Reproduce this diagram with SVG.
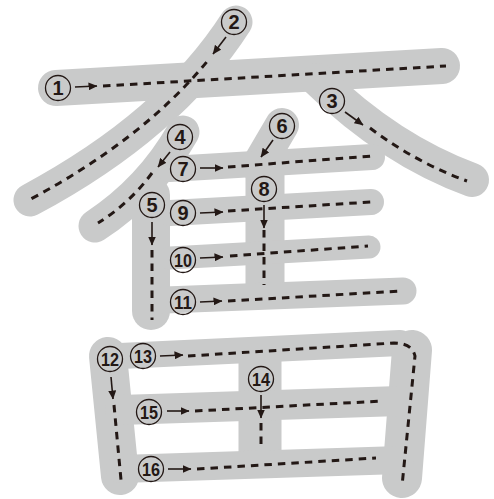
<svg xmlns="http://www.w3.org/2000/svg" width="494" height="499" viewBox="0 0 494 499">
<defs>
<style>
.g{fill:none;stroke:#c9caca;stroke-linecap:round;stroke-linejoin:round}
.gb{fill:none;stroke:#c9caca;stroke-linecap:butt}
.d{fill:none;stroke:#231815;stroke-width:3;stroke-dasharray:7.5 6}
.c{fill:none;stroke:#231815;stroke-width:1.3}
.a{fill:none;stroke:#231815;stroke-width:1.6;marker-end:url(#ah)}
.t{font-family:"Liberation Sans",Arial,sans-serif;font-weight:bold;fill:#231815;text-anchor:middle}
.t1{font-size:20px}
.t2{font-size:18px}
</style>
<marker id="ah" markerUnits="userSpaceOnUse" markerWidth="9" markerHeight="8" refX="8.5" refY="4" orient="auto">
<path d="M0,0 L9,4 L0,8 Z" fill="#231815"/>
</marker>
</defs>
<g id="shapes">
<path class="g" stroke-width="36" d="M56,88 L442,66"/>
<path class="g" stroke-width="33" d="M236,22 Q170,125 30,200"/>
<path class="g" stroke-width="34" d="M318,80 Q390,150 472,180"/>
<path class="g" stroke-width="33" d="M183,132 Q150,190 95,226"/>
<path class="g" stroke-width="38" d="M151,195 L151,311"/>
<path class="g" stroke-width="34" d="M282,125 L258,166"/>
<path class="g" stroke-width="26" d="M170,169 L372,157"/>
<path class="gb" stroke-width="39" d="M265,168 L265,295"/>
<path class="g" stroke-width="26" d="M170,213 L371,202"/>
<path class="g" stroke-width="23" d="M170,258 L369,247"/>
<path class="g" stroke-width="27" d="M165,300 L403,291"/>
<path class="g" stroke-width="38" d="M108,356 L120,476"/>
<path class="g" stroke-width="26" d="M120,356 L400,343"/>
<path class="g" stroke-width="40" d="M412,350 L402,478"/>
<path class="gb" stroke-width="43" d="M260,355 L260,460"/>
<path class="g" stroke-width="30" d="M120,410 L400,401"/>
<path class="g" stroke-width="28" d="M120,469 L400,460"/>
</g>
<g id="connectors">
<path class="d" d="M103,86 L446,66"/>
<path class="d" d="M206.6,62.1 Q142,140 29,200"/>
<path class="d" d="M370,128 Q415,162 467,181"/>
<path class="d" d="M152,173 Q130,203 98,223"/>
<path class="d" d="M152,250 L152,320"/>
<path class="d" d="M228,167 L372,156"/>
<path class="d" d="M264,230 L264,285"/>
<path class="d" d="M228,211 L371,202"/>
<path class="d" d="M230,256 L368,246"/>
<path class="d" d="M228,301 L402,291"/>
<path class="d" d="M114,405 L121,480"/>
<path class="d" d="M188,356 L394,343 Q412,343 415,356 L402,486"/>
<path class="d" d="M261,423 L261,447"/>
<path class="d" d="M195,411 L383,401"/>
<path class="d" d="M197,469 L376,458"/>
<line class="a" x1="75" y1="87" x2="97" y2="86"/>
<line class="a" x1="226" y1="37" x2="213" y2="54"/>
<line class="a" x1="345" y1="112" x2="363" y2="125"/>
<line class="a" x1="170" y1="152" x2="158" y2="167"/>
<line class="a" x1="152" y1="222" x2="152" y2="245"/>
<line class="a" x1="273" y1="140" x2="261" y2="157"/>
<line class="a" x1="200" y1="168" x2="223" y2="168"/>
<line class="a" x1="264" y1="205" x2="264" y2="228"/>
<line class="a" x1="200" y1="213" x2="223" y2="212"/>
<line class="a" x1="200" y1="258" x2="223" y2="257"/>
<line class="a" x1="200" y1="302" x2="222" y2="301"/>
<line class="a" x1="111" y1="377" x2="113" y2="399"/>
<line class="a" x1="160" y1="356" x2="183" y2="355"/>
<line class="a" x1="261" y1="395" x2="261" y2="418"/>
<line class="a" x1="167" y1="411" x2="189" y2="411"/>
<line class="a" x1="168" y1="469" x2="191" y2="469"/>
</g>
<g id="n1"><circle class="c" cx="58" cy="88" r="12.5"/><text class="t t1" x="58" y="95">1</text></g>
<g id="n2"><circle class="c" cx="234" cy="22" r="12.5"/><text class="t t1" x="234" y="29">2</text></g>
<g id="n3"><circle class="c" cx="332" cy="101" r="12.5"/><text class="t t1" x="332" y="108">3</text></g>
<g id="n4"><circle class="c" cx="180" cy="137" r="12.5"/><text class="t t1" x="180" y="144">4</text></g>
<g id="n5"><circle class="c" cx="152" cy="205" r="12.5"/><text class="t t1" x="152" y="212">5</text></g>
<g id="n6"><circle class="c" cx="282" cy="126" r="12.5"/><text class="t t1" x="282" y="133">6</text></g>
<g id="n7"><circle class="c" cx="183" cy="169" r="12.5"/><text class="t t1" x="183" y="176">7</text></g>
<g id="n8"><circle class="c" cx="264" cy="189" r="12.5"/><text class="t t1" x="264" y="196">8</text></g>
<g id="n9"><circle class="c" cx="183" cy="213" r="12.5"/><text class="t t1" x="183" y="220">9</text></g>
<g id="n10"><circle class="c" cx="183" cy="260" r="12.5"/><text class="t t2" x="183" y="266.5" textLength="18" lengthAdjust="spacingAndGlyphs">10</text></g>
<g id="n11"><circle class="c" cx="183" cy="302" r="12.5"/><text class="t t2" x="183" y="308.5" textLength="18" lengthAdjust="spacingAndGlyphs">11</text></g>
<g id="n12"><circle class="c" cx="110" cy="359" r="12.5"/><text class="t t2" x="110" y="365.5" textLength="18" lengthAdjust="spacingAndGlyphs">12</text></g>
<g id="n13"><circle class="c" cx="143" cy="356" r="12.5"/><text class="t t2" x="143" y="362.5" textLength="18" lengthAdjust="spacingAndGlyphs">13</text></g>
<g id="n14"><circle class="c" cx="261" cy="379" r="12.5"/><text class="t t2" x="261" y="385.5" textLength="18" lengthAdjust="spacingAndGlyphs">14</text></g>
<g id="n15"><circle class="c" cx="149" cy="412" r="12.5"/><text class="t t2" x="149" y="418.5" textLength="18" lengthAdjust="spacingAndGlyphs">15</text></g>
<g id="n16"><circle class="c" cx="151" cy="469" r="12.5"/><text class="t t2" x="151" y="475.5" textLength="18" lengthAdjust="spacingAndGlyphs">16</text></g>
</svg>
